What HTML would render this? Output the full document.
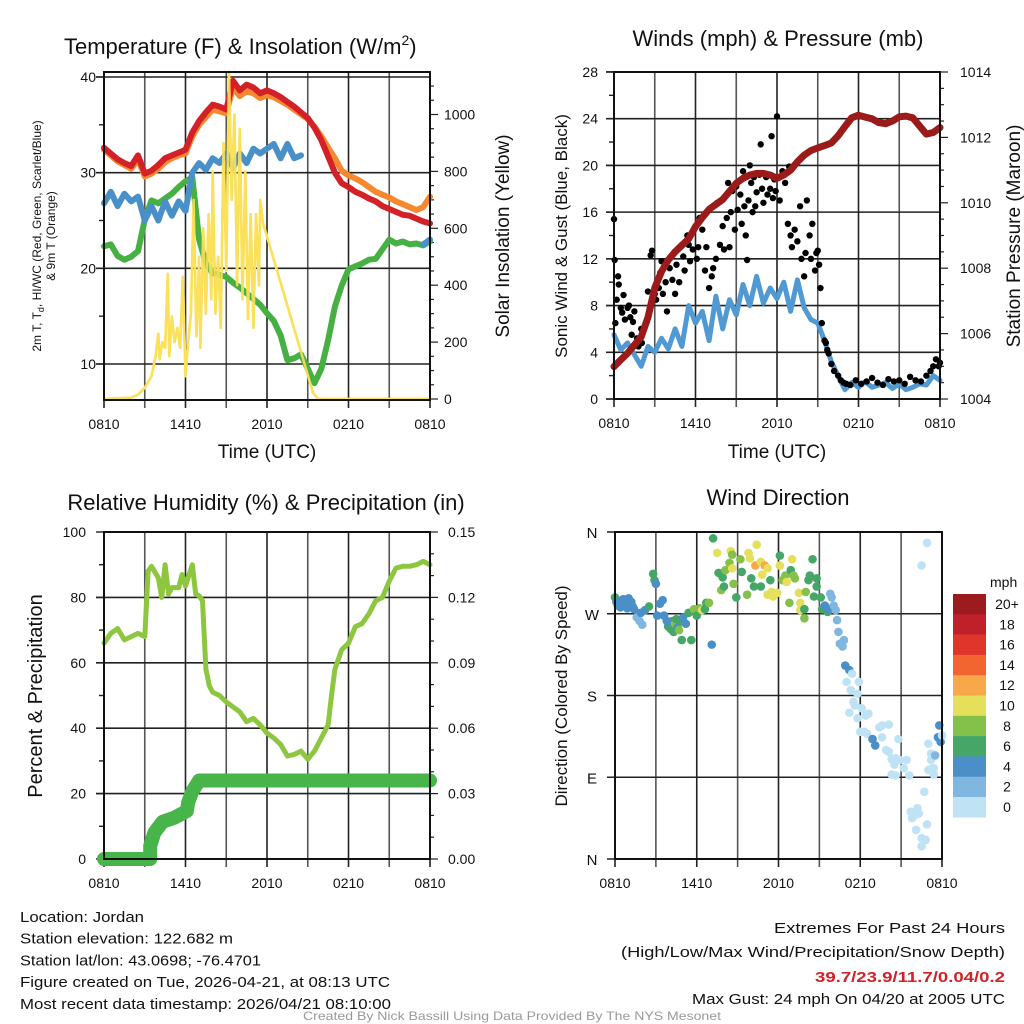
<!DOCTYPE html>
<html><head><meta charset="utf-8"><style>
html,body{margin:0;padding:0;background:#fff;}
svg{display:block;font-family:"Liberation Sans",sans-serif;}
</style></head><body>
<svg id="c" width="1024" height="1024" viewBox="0 0 1024 1024"></svg>
<script>
// ---------- DATA ----------
const halfHours = [0,0.5,1,1.5,2,2.5,3,3.5,4,4.5,5,5.5,6,6.5,7,7.5,8,8.5,9,9.5,10,10.5,11,11.5,12,12.5,13,13.5,14,14.5,15,15.5,16,16.5,17,17.5,18,18.5,19,19.5,20,20.5,21,21.5,22,22.5,23,23.5,24];
const tempRed = [32.6,32.0,31.4,31.0,30.7,31.8,29.9,30.2,30.8,31.5,31.8,32.1,32.4,34.2,35.4,36.3,37.1,36.9,36.6,39.6,38.6,39.2,38.9,38.3,38.6,38.3,37.9,37.4,36.9,36.3,35.7,34.7,33.4,31.7,30.0,28.9,28.5,28.0,27.7,27.3,27.0,26.5,26.2,25.9,25.6,25.5,25.2,24.9,24.7];
const tempOrange = [32.4,31.8,31.2,30.8,30.4,31.4,29.6,29.9,30.4,31.1,31.5,31.8,32.0,33.8,35.0,35.8,36.6,36.4,36.2,38.9,38.0,38.5,38.3,37.8,38.1,37.9,37.5,37.1,36.6,36.1,35.6,34.8,33.8,32.6,31.5,30.2,29.7,29.4,29.0,28.5,28.0,27.7,27.4,27.0,26.7,26.4,26.1,26.4,27.5];
const tempBlue = [26.8,28.0,26.5,27.8,27.0,27.5,25.0,26.5,25.0,27.0,25.5,27.0,26.0,30.0,31.0,30.3,31.5,31.0,32.0,30.5,32.0,31.0,32.5,32.0,32.5,33.0,31.5,33.0,31.5,31.8,null,null,null,null,null,null,null,null,null,null,null,null,null,null,null,null,null,22.5,23.0];
const tempGreen = [22.3,22.5,21.3,20.9,21.2,21.8,25.1,27.1,26.8,27.3,27.8,28.5,29.1,29.5,23.0,20.5,19.5,19.3,19.1,18.5,18.0,17.4,16.8,16.2,15.3,14.5,13.0,10.4,10.6,11.0,9.5,8.0,9.5,12.5,16.0,18.2,19.9,20.2,20.5,20.9,21.0,22.0,23.0,22.6,22.8,22.5,22.6,22.4,22.8];
const insolHours = [0,2,2.5,3,3.5,3.8,4,4.1,4.3,4.5,4.7,4.8,5,5.2,5.4,5.6,5.8,6,6.2,6.4,6.6,6.8,7,7.1,7.3,7.5,7.7,7.9,8,8.2,8.4,8.6,8.8,9,9.2,9.4,9.6,9.8,10,10.2,10.4,10.6,10.8,11,11.2,11.4,11.5,11.7,15.4,15.8,24];
const insolValues = [0,5,15,40,80,150,230,140,200,180,440,150,290,200,250,180,430,80,200,300,700,220,500,180,600,300,650,350,800,300,500,250,900,450,1150,700,1000,400,950,350,800,280,650,250,650,400,700,620,20,0,0];
const windSpeed = [5.5,4.2,4.8,3.8,2.8,4.5,4.0,5.2,4.3,6.0,4.5,8.0,6.5,7.5,5.0,8.8,6.0,8.5,7.2,9.8,8.0,10.5,8.2,9.5,8.6,10.0,7.5,10.2,7.8,6.8,6.5,5.0,3.2,2.0,0.8,1.4,1.0,1.5,1.0,1.2,1.4,0.9,1.3,0.8,1.0,1.3,1.2,2.0,1.6];
const pressure = [1004.99,1005.2,1005.4,1005.65,1005.9,1006.5,1007.4,1007.9,1008.25,1008.5,1008.7,1008.9,1009.27,1009.55,1009.8,1009.95,1010.1,1010.35,1010.6,1010.75,1010.85,1010.9,1010.9,1010.85,1010.75,1010.85,1011.0,1011.25,1011.46,1011.6,1011.68,1011.75,1011.83,1012.05,1012.33,1012.6,1012.68,1012.62,1012.57,1012.45,1012.42,1012.5,1012.63,1012.65,1012.6,1012.35,1012.1,1012.15,1012.3];
const gustHours = [0,0.05,0.1,0.2,0.3,0.35,0.5,0.6,0.7,0.8,1.0,1.1,1.2,1.3,1.4,1.5,1.7,1.8,2.0,2.05,2.5,2.7,2.8,3.0,3.1,3.3,3.4,3.5,3.6,3.8,3.9,4.1,4.3,4.5,4.6,4.8,5.0,5.1,5.2,5.4,5.5,5.6,5.8,6.0,6.1,6.2,6.3,6.5,6.7,6.8,7.0,7.2,7.3,7.5,7.6,7.8,8.0,8.1,8.3,8.4,8.5,8.6,8.7,8.9,9.0,9.1,9.3,9.4,9.5,9.6,9.7,9.8,9.9,10.0,10.1,10.2,10.3,10.4,10.5,10.7,10.8,10.9,11.0,11.2,11.3,11.5,11.6,11.7,11.8,11.9,12.0,12.2,12.4,12.6,12.8,12.9,13.0,13.1,13.3,13.5,13.7,13.8,14.0,14.1,14.2,14.4,14.5,14.6,14.8,14.9,15.0,15.1,15.2,15.3,15.5,15.6,15.7,15.8,16.0,16.2,16.5,16.7,16.9,17.1,17.4,17.8,18.2,18.6,19.0,19.4,19.8,20.2,20.6,21.0,21.4,21.8,22.2,22.6,23.0,23.3,23.5,23.7,23.9,24.0];
const gustValues = [15.4,11.9,6.5,8.5,10.5,9.8,7.8,7.4,8.9,6.8,7.8,8.0,7.0,5.5,6.6,7.5,5.2,4.5,6.0,4.8,9.2,12.3,12.7,9.0,8.5,9.5,10.8,11.8,9.0,10.0,7.5,11.2,10.2,9.0,11.5,10.0,13.2,12.2,11.0,14.0,13.2,11.8,12.8,14.8,12.0,13.0,15.5,14.5,11.0,13.0,9.5,10.5,11.2,12.0,16.8,13.2,14.8,12.8,15.5,18.5,13.0,16.0,17.8,14.5,18.2,16.2,17.5,15.0,19.5,16.5,14.0,11.9,17.0,20.0,18.5,16.0,19.0,16.5,17.7,19.2,21.8,18.0,16.8,19.0,17.5,18.0,22.5,17.2,18.8,17.8,24.2,17.0,19.5,18.5,15.0,19.9,14.0,13.0,14.5,13.5,16.5,12.0,10.5,12.5,17.0,14.0,12.0,15.0,11.0,12.5,12.7,11.5,9.5,6.5,5.0,4.8,4.2,3.9,3.0,2.4,2.0,1.6,1.4,1.3,1.2,1.6,1.3,1.5,1.8,1.4,1.2,1.7,1.5,1.6,1.3,1.9,1.6,1.5,2.0,2.4,2.8,3.4,2.8,3.1];
const rhHours = [0,0.5,1,1.5,2,2.5,3,3.25,3.5,4,4.25,4.5,4.75,5,5.5,5.75,6,6.5,6.75,7,7.25,7.5,7.75,8,8.5,9,9.5,10,10.5,11,11.5,12,12.5,13,13.5,14,14.5,15,15.5,16,16.5,16.75,17,17.5,18,18.5,19,19.5,20,20.5,21,21.5,22,22.5,23,23.5,24];
const rhValues = [66,69,70.5,67,68,69,68,88,89.5,86,80,90,81,83,83,87,83.5,90,81,80.5,79,58,53,51,50,48,46.5,45,42,43,41,38.5,37,35,31.5,32,33,30.5,33,37,41,50,58,64,66,71,72,75,79,80,85,89,89.5,89.5,90,91,90];
const precipHours = [0,3.4,3.4,3.7,4.3,5.2,5.8,6.1,6.2,6.5,6.8,7.0,24];
const precipValues = [0,0,0.006,0.012,0.017,0.019,0.021,0.022,0.026,0.031,0.034,0.036,0.036];
const dirHours = [0,0.1,0.2,0.3,0.4,0.5,0.6,0.7,0.8,0.9,1.0,1.1,1.2,1.3,1.4,1.6,1.8,1.9,2.0,2.2,2.5,2.8,2.9,3.0,3.1,3.3,3.5,3.6,3.8,3.9,4.0,4.1,4.2,4.3,4.4,4.5,4.6,4.7,4.8,4.9,5.0,5.2,5.4,5.6,5.8,6.0,6.2,6.4,6.6,6.7,6.9,7.1,7.2,7.5,7.6,7.8,7.9,8.0,8.1,8.4,8.5,8.6,8.6,8.7,8.9,9.2,9.3,9.7,9.8,9.9,10.0,10.2,10.3,10.4,10.7,10.7,10.8,11.0,11.2,11.2,11.4,11.5,11.6,11.9,12.1,12.1,12.3,12.5,12.6,12.8,12.9,13.0,13.1,13.2,13.5,13.6,13.6,13.9,13.9,14.0,14.2,14.3,14.5,14.6,14.8,14.8,15.1,15.2,15.4,15.6,15.7,15.8,15.9,16.05,16.2,16.3,16.4,16.5,16.7,16.8,16.9,17.0,17.2,17.2,17.3,17.4,17.5,17.6,17.8,17.8,17.9,18.0,18.1,18.3,18.4,18.5,18.6,18.9,19.1,19.4,19.6,19.6,19.9,20.1,20.1,20.3,20.3,20.5,20.6,20.6,20.8,20.9,21.2,21.4,21.6,21.7,21.8,21.9,22.1,22.2,22.3,22.5,22.5,22.5,22.7,22.8,22.9,22.9,23.0,23.0,23.2,23.2,23.3,23.4,23.4,23.5,23.7,23.8,23.9,24.0];
const dirValues = [288,283,279,284,277,281,286,279,283,276,287,280,283,278,275,266,262,271,258,274,278,314,307,303,268,281,285,268,262,256,258,253,262,250,259,264,255,252,262,241,266,259,271,241,275,268,276,274,275,282,282,236,353,337,315,296,310,300,318,326,339,320,335,303,288,330,316,291,337,331,309,300,323,346,327,300,313,323,291,320,307,294,289,293,334,323,307,312,305,282,318,330,312,309,293,282,274,275,265,294,307,312,330,289,309,300,288,275,279,272,275,292,288,279,274,263,250,237,234,241,213,195,208,161,186,204,173,169,182,155,195,140,166,140,158,138,160,132,125,145,147,134,120,148,118,110,93,104,111,92,132,109,100,109,92,52,45,47,32,56,50,23,14,323,74,21,38,348,127,98,116,109,100,93,100,114,134,147,129,136];
const dirSpeeds = [7,5,5,5,5,4.5,5,5,4.5,5,5,5,4.5,5,4.5,3,3,5,3,5,7,7,7,5,5,5,5,5,5,7,5,7,5,7,9,7,5,9,7,7,5,5,7,7,9,7,9,11,7,7,9,5,7,11,7,9,7,7,9,9,11,11,9,9,7,9,7,9,11,11,7,7,12.5,11,11,7,11,12.5,11,11,7,11,11,11,7,11,9,9,11,9,7,11,9,9,11,11,11,7,9,9,7,7,7,7,7,7,7,7,5,7,5,3,3,3,3,3,3,3,3,3,5,1,5,1,1,1,1,1,1,1,1,1,1,1,1,1,1,5,5,1,1,1,1,1,1,1,1,1,1,1,1,1,1,1,1,1,1,1,1,1,1,1,1,1,1,1,1,1,1,1,1,1,1,1,1,3,5,5,5,1,3,5,5];
const timeLabels = ["0810","1410","2010","0210","0810"];
const tempTicks = [10,20,30,40];
const insolTicks = [0,200,400,600,800,1000];
const windTicks = [0,4,8,12,16,20,24,28];
const presTicks = [1004,1006,1008,1010,1012,1014];
const rhTicks = [0,20,40,60,80,100];
const precipTicks = ["0.00","0.03","0.06","0.09","0.12","0.15"];
const dirTickLabels = ["N","E","S","W","N"];
const legendLabels = ["20+","18","16","14","12","10","8","6","4","2","0"];
const legendColors = ["#9b1b1e","#c0202a","#e0352b","#f26530","#f8a84a","#e5e05c","#84c14a","#45a668","#4a8fc7","#7fb7e0","#bfe3f5"];

// ---------- HELPERS ----------
const NS="http://www.w3.org/2000/svg";
const svg=document.getElementById('c');
function mk(tag,attrs,parent){const e=document.createElementNS(NS,tag);for(const k in attrs)e.setAttribute(k,attrs[k]);(parent||svg).appendChild(e);return e;}
function txt(s,attrs,parent){const e=mk('text',attrs,parent);e.textContent=s;return e;}
function grp(name){const g=mk('g',{});return g;}
function linePath(xs,ys,fx,fy){let d='',pen=false;for(let i=0;i<xs.length;i++){if(ys[i]===null||ys[i]===undefined){pen=false;continue;}d+=(pen?'L':'M')+fx(xs[i]).toFixed(1)+' '+fy(ys[i]).toFixed(1);pen=true;}return d;}

function panelFrame(name,x0,x1,y0,y1,hLines,fy){
  const g=grp(name+'-frame');
  for(let h=0;h<=24;h+=3){const x=x0+h/24*(x1-x0);const l=mk('line',{x1:x,y1:y0,x2:x,y2:y1+8,stroke:(h%6?'#555':'#222'),'stroke-width':1.6},g);}
  hLines.forEach(v=>{const y=fy(v);const l=mk('line',{x1:x0-8,y1:y,x2:x1,y2:y,stroke:'#222','stroke-width':1.6},g);});
  timeLabels.forEach((s,i)=>{const t=txt(s,{x:x0+i*6/24*(x1-x0),y:y1+29,'font-size':14,'text-anchor':'middle',fill:'#111'},g);});
  return g;
}
function border(x0,x1,y0,y1,name){const r=mk('rect',{x:x0,y:y0,width:x1-x0,height:y1-y0,fill:'none',stroke:'#111','stroke-width':2});}

// ---------- PANEL 1 ----------
(function(){
 const x0=104,x1=430,y0=72,y1=400;
 const fx=h=>x0+h/24*(x1-x0), fy=v=>364-(v-10)*9.567, fw=w=>399-w*0.2845;
 const g=panelFrame('temperature-panel',x0,x1,y0,y1,tempTicks,fy);
 for(let v=10;v<=40;v+=5){mk('line',{x1:x0-(v%10?5:8),y1:fy(v),x2:x0,y2:fy(v),stroke:'#222','stroke-width':1.4},g);}
 tempTicks.forEach(v=>{const t=txt(String(v),{x:96,y:fy(v)+5,'font-size':14,'text-anchor':'end',fill:'#111'},g);});
 for(let w=0;w<=1100;w+=50){mk('line',{x1:x1,y1:fw(w),x2:x1+(w%200?4:8),y2:fw(w),stroke:'#222','stroke-width':1.2},g);}
 insolTicks.forEach(w=>{const t=txt(String(w),{x:444,y:fw(w)+5,'font-size':14,fill:'#111'},g);});
 const s=grp('temperature-series');
 const ins=mk('path',{d:linePath(insolHours,insolValues,fx,fw),fill:'none',stroke:'#fbe05a','stroke-width':2.5,'stroke-linejoin':'round'},s);
 
 const defs=[['dewpoint-line',tempGreen,'#47b043'],['heat-index-wind-chill-line',tempBlue,'#4a90c8'],['9m-temperature-line',tempOrange,'#f6882f'],['2m-temperature-line',tempRed,'#d42027']];
 defs.forEach(([n,arr,c])=>{const p=mk('path',{d:linePath(halfHours,arr,fx,fy),fill:'none',stroke:c,'stroke-width':6,'stroke-linejoin':'round','stroke-linecap':'round'},s);});
 mk('path',{d:linePath(insolHours,insolValues,fx,fw),fill:'none',stroke:'#fbe05a','stroke-width':2.5,'stroke-linejoin':'round',opacity:0.9},s);
 border(x0,x1,y0,y1,'temperature-panel');
 const tt=txt('Temperature (F) & Insolation (W/m',{x:64,y:54,'font-size':22,fill:'#111'});
 const sup=mk('tspan',{dy:-9,'font-size':14},tt);sup.textContent='2';const cl=mk('tspan',{dy:9},tt);cl.textContent=')';
 const yl=mk('text',{transform:'translate(41,236) rotate(-90)','font-size':12,'text-anchor':'middle',fill:'#111'});
 yl.innerHTML='2m T, T<tspan dy="3" font-size="9">d</tspan><tspan dy="-3">, HI/WC (Red, Green, Scarlet/Blue)</tspan>';
 const yl2=txt('& 9m T (Orange)',{transform:'translate(55,236) rotate(-90)','font-size':12,'text-anchor':'middle',fill:'#111'});
 const yr=txt('Solar Insolation (Yellow)',{transform:'translate(509,236) rotate(-90)','font-size':19,'text-anchor':'middle',fill:'#111'});
 const xt=txt('Time (UTC)',{x:267,y:458,'font-size':19,'text-anchor':'middle',fill:'#111'});
})();

// ---------- PANEL 2 ----------
(function(){
 const x0=614,x1=940,y0=72,y1=399;
 const fx=h=>x0+h/24*(x1-x0), fy=v=>399-v*11.68, fp=p=>399-(p-1004)*32.7;
 const g=panelFrame('wind-panel',x0,x1,y0,y1,windTicks,fy);
 for(let v=0;v<=28;v+=2){mk('line',{x1:x0-(v%4?5:8),y1:fy(v),x2:x0,y2:fy(v),stroke:'#222','stroke-width':1.4},g);}
 windTicks.forEach(v=>{const t=txt(String(v),{x:598,y:fy(v)+5,'font-size':14,'text-anchor':'end',fill:'#111'},g);});
 for(let p=1004;p<=1014.01;p+=0.5){mk('line',{x1:x1,y1:fp(p),x2:x1+(Math.abs(p%2)<0.01?8:4),y2:fp(p),stroke:'#222','stroke-width':1.2},g);}
 presTicks.forEach(p=>{const t=txt(String(p),{x:960,y:fp(p)+5,'font-size':14,fill:'#111'},g);});
 const s=grp('wind-series');
 const w=mk('path',{d:linePath(halfHours,windSpeed,fx,fy),fill:'none',stroke:'#5199d3','stroke-width':5,'stroke-linejoin':'round','stroke-linecap':'round'},s);
 
 gustHours.forEach((h,i)=>{const c=mk('circle',{cx:fx(h),cy:fy(gustValues[i]),r:3.2,fill:'#000'},s);});
 const p=mk('path',{d:linePath(halfHours,pressure,fx,fp),fill:'none',stroke:'#9b1b1b','stroke-width':7,'stroke-linejoin':'round','stroke-linecap':'round'},s);
 
 border(x0,x1,y0,y1,'wind-panel');
 const tt=txt('Winds (mph) & Pressure (mb)',{x:778,y:46,'font-size':22,'text-anchor':'middle',fill:'#111'});
 const yl=txt('Sonic Wind & Gust (Blue, Black)',{transform:'translate(567,236) rotate(-90)','font-size':17,'text-anchor':'middle',fill:'#111'});
 const yr=txt('Station Pressure (Maroon)',{transform:'translate(1020,236) rotate(-90)','font-size':19,'text-anchor':'middle',fill:'#111'});
 const xt=txt('Time (UTC)',{x:777,y:458,'font-size':19,'text-anchor':'middle',fill:'#111'});
})();

// ---------- PANEL 3 ----------
(function(){
 const x0=104,x1=430,y0=532,y1=859;
 const fx=h=>x0+h/24*(x1-x0), fy=v=>859-v*3.27, fr=v=>859-v/0.15*327;
 const g=panelFrame('humidity-panel',x0,x1,y0,y1,[20,40,60,80],fy);
 for(let v=0;v<=100;v+=10){mk('line',{x1:x0-(v%20?5:8),y1:fy(v),x2:x0,y2:fy(v),stroke:'#222','stroke-width':1.4},g);}
 rhTicks.forEach(v=>{const t=txt(String(v),{x:86,y:fy(v)+5,'font-size':14,'text-anchor':'end',fill:'#111'},g);});
 for(let k=0;k<=15;k++){const y=859-k*327/15;mk('line',{x1:x1,y1:y,x2:x1+(k%3?4:8),y2:y,stroke:'#222','stroke-width':1.2},g);}
 precipTicks.forEach(s=>{const t=txt(s,{x:448,y:fr(parseFloat(s))+5,'font-size':14,fill:'#111'},g);});
 const s=grp('humidity-series');
 const pr=mk('path',{d:linePath(precipHours,precipValues,fx,fr),fill:'none',stroke:'#47b549','stroke-width':14,'stroke-linejoin':'round','stroke-linecap':'round'},s);
 
 const rh=mk('path',{d:linePath(rhHours,rhValues,fx,fy),fill:'none',stroke:'#8dc63f','stroke-width':5,'stroke-linejoin':'round','stroke-linecap':'round'},s);
 
 border(x0,x1,y0,y1,'humidity-panel');
 const tt=txt('Relative Humidity (%) & Precipitation (in)',{x:266,y:510,'font-size':22,'text-anchor':'middle',fill:'#111'});
 const yl=txt('Percent & Precipitation',{transform:'translate(42,696) rotate(-90)','font-size':20,'text-anchor':'middle',fill:'#111'});
})();

// ---------- PANEL 4 ----------
(function(){
 const x0=615,x1=942,y0=532,y1=859;
 const fx=h=>x0+h/24*(x1-x0), fy=d=>859-d/360*327;
 const g=panelFrame('direction-panel',x0,x1,y0,y1,[90,180,270,360,0],fy);
 dirTickLabels.forEach((s,i)=>{const t=txt(s,{x:592,y:fy(i*90)+6,'font-size':15,'text-anchor':'middle',fill:'#111'},g);});
 const s=grp('direction-series');
 dirHours.forEach((h,i)=>{const b=Math.min(10,Math.floor(dirSpeeds[i]/2));const c=mk('circle',{cx:fx(h),cy:fy(dirValues[i]),r:4.3,fill:legendColors[10-b]},s);});
 border(x0,x1,y0,y1,'direction-panel');
 const tt=txt('Wind Direction',{x:778,y:505,'font-size':22,'text-anchor':'middle',fill:'#111'});
 const yl=txt('Direction (Colored By Speed)',{transform:'translate(567,696) rotate(-90)','font-size':17,'text-anchor':'middle',fill:'#111'});
 const lg=grp('speed-colorbar');
 const mt=txt('mph',{x:990,y:587,'font-size':14,fill:'#111'},lg);
 legendLabels.forEach((l,i)=>{const y=594+i*20.3;const r=mk('rect',{x:953,y:y,width:33,height:20.6,fill:legendColors[i]},lg);
  const t=txt(l,{x:1007,y:y+15,'font-size':14,'text-anchor':'middle',fill:'#111'},lg);});
})();

// ---------- FOOTER ----------
(function(){
 const g=grp('station-info');
 const L=['Location: Jordan','Station elevation: 122.682 m','Station lat/lon: 43.0698; -76.4701','Figure created on Tue, 2026-04-21, at 08:13 UTC','Most recent data timestamp: 2026/04/21 08:10:00'];
 const W=[124,213,241,370,371];
 L.forEach((s,i)=>{const t=txt(s,{x:20,y:922+i*21.7,'font-size':15,fill:'#111',textLength:W[i],lengthAdjust:'spacingAndGlyphs'},g);});
 const r=grp('extremes-info');
 const R=[['Extremes For Past 24 Hours',933,231,'#111','normal'],['(High/Low/Max Wind/Precipitation/Snow Depth)',957,384,'#111','normal'],['39.7/23.9/11.7/0.04/0.2',982,190,'#d42027','bold'],['Max Gust: 24 mph On 04/20 at 2005 UTC',1004,313,'#111','normal']];
 R.forEach(([s,y,w,c,fw])=>{const t=txt(s,{x:1005,y:y,'font-size':15,'text-anchor':'end',fill:c,'font-weight':fw,textLength:w,lengthAdjust:'spacingAndGlyphs'},r);});
 const cr=txt('Created By Nick Bassill Using Data Provided By The NYS Mesonet',{x:512,y:1020,'font-size':12,'text-anchor':'middle',fill:'#999',textLength:418,lengthAdjust:'spacingAndGlyphs'});
 
})();
</script>
</body></html>
